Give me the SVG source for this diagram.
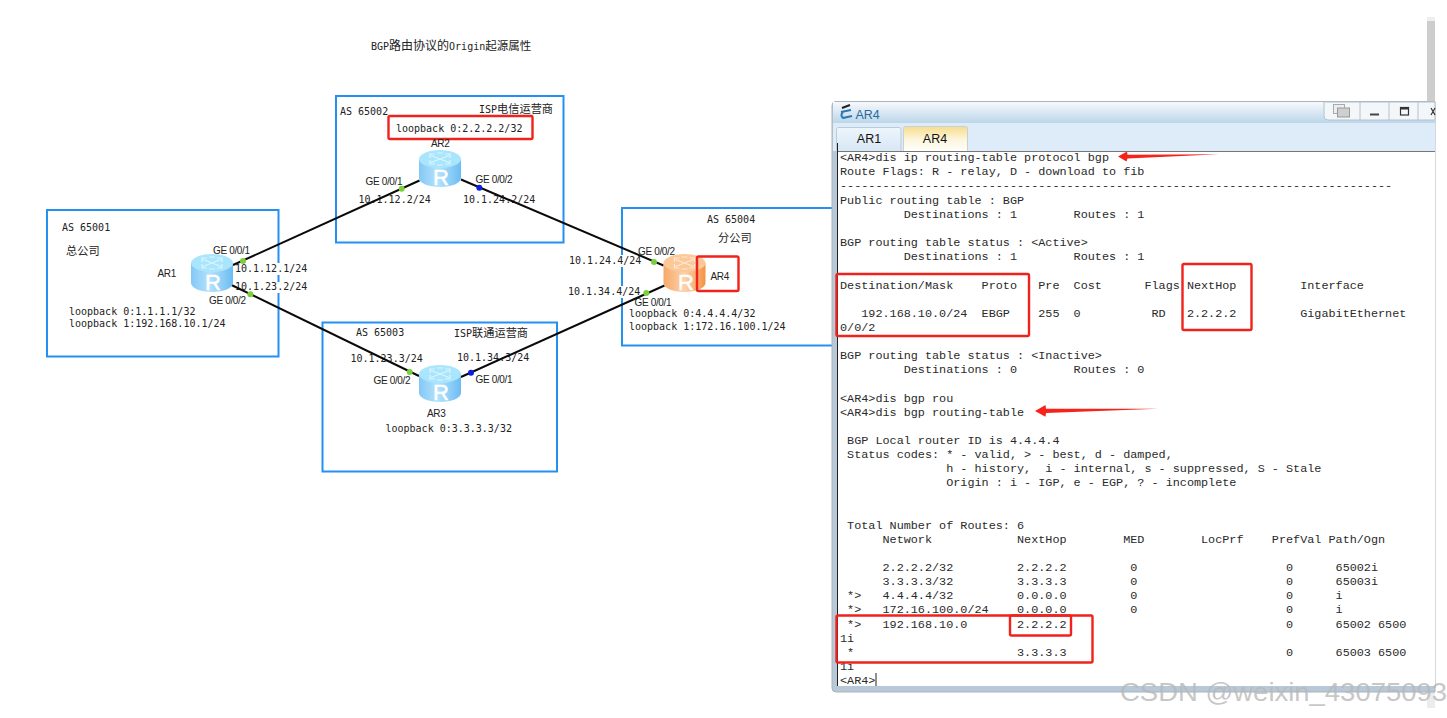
<svg xmlns="http://www.w3.org/2000/svg" width="1447" height="718" viewBox="0 0 1447 718">
<style>
text{white-space:pre}
.m{font-family:"DejaVu Sans Mono","Noto Sans CJK SC",monospace;font-size:10px;fill:#222}
.c{font-family:"Noto Sans CJK SC",sans-serif;font-size:11.2px;fill:#222}
.s{font-family:"Liberation Sans",Arial,sans-serif;font-size:10px;letter-spacing:-.35px;fill:#222}
.as{fill:none;stroke:#2291f2;stroke-width:2}
.red{fill:none;stroke:#f0221c;stroke-width:2.4}
.bg{fill:#fff}
.link{stroke:#0a0a0a;stroke-width:2;fill:none}
.g{fill:#7ccf3c}.b{fill:#0a1ee0}
.t{font-family:"Liberation Mono","Courier New",monospace;font-size:11.8px;fill:#2a2a2a}
.ar{fill:#f5231c}
.r{font-family:"Liberation Sans",sans-serif;font-size:22px;fill:#fff;stroke:#fff;stroke-width:.5;text-anchor:middle}
.tab{font-family:"Liberation Sans",sans-serif;font-size:12.5px;fill:#111;text-anchor:middle}
</style>
<defs>
<linearGradient id="rb" x1="0" x2="1" y1="0" y2="0"><stop offset="0" stop-color="#84c8f6"/><stop offset=".45" stop-color="#b4e2fd"/><stop offset="1" stop-color="#6cbcf2"/></linearGradient>
<linearGradient id="ro" x1="0" x2="1" y1="0" y2="0"><stop offset="0" stop-color="#f7a868"/><stop offset=".5" stop-color="#fdd2aa"/><stop offset="1" stop-color="#f29445"/></linearGradient>
<linearGradient id="title" x1="0" x2="0" y1="0" y2="1"><stop offset="0" stop-color="#f6f9fc"/><stop offset="1" stop-color="#bcd6ea"/></linearGradient>
<linearGradient id="tabOn" x1="0" x2="0" y1="0" y2="1"><stop offset="0" stop-color="#f7dc8c"/><stop offset=".5" stop-color="#fdf6dc"/><stop offset="1" stop-color="#ffffff"/></linearGradient>
<linearGradient id="tabOff" x1="0" x2="0" y1="0" y2="1"><stop offset="0" stop-color="#eef5fc"/><stop offset="1" stop-color="#d6e6f4"/></linearGradient>
<g id="cross" fill="none" stroke="#fff" stroke-width="1.200" opacity=".6"><path d="M-9-3.500L9 3.500M-9 3.500L9-3.500M-3-6L3-6M-3 6L3 6"/><path d="M-10-1V-5h5M10 1V5h-5M-10 1V5h5M10-1V-5h-5"/></g>
</defs>
<rect width="1447" height="718" fill="#fff"/>
<text class="m" x="371" y="50">BGP<tspan class="c" style="font-size:12px">路由协议的</tspan>Origin<tspan class="c" style="font-size:11.500px">起源属性</tspan></text>

<g id="as-65001">
<rect class="as" x="47" y="210" width="231.500" height="146.500"/>
<rect class="bg" x="235" y="263" width="72" height="12"/><rect class="bg" x="235" y="282" width="72" height="11"/>
<text class="m" x="62" y="231">AS 65001</text>
<text class="c" x="66" y="255">总公司</text>
<text class="m" x="69" y="315">loopback 0:1.1.1.1/32</text>
<text class="m" x="69" y="327">loopback 1:192.168.10.1/24</text>
<text class="s" x="213" y="254">GE 0/0/1</text>
<text class="s" x="209" y="304">GE 0/0/2</text>
<text class="m" x="235" y="272">10.1.12.1/24</text>
<text class="m" x="235" y="290">10.1.23.2/24</text>
</g>
<g id="as-65002">
<rect class="as" x="336" y="96" width="227.500" height="146.500"/>
<text class="m" x="340" y="115">AS 65002</text>
<text class="m" x="479" y="113">ISP<tspan class="c">电信运营商</tspan></text>
<rect class="red" x="388.500" y="116" width="144" height="23" rx="1.500"/>
<text class="m" x="396" y="132">loopback 0:2.2.2.2/32</text>
<text class="s" x="365.500" y="185">GE 0/0/1</text>
<text class="s" x="475.500" y="183">GE 0/0/2</text>
<text class="m" x="358.500" y="202.500">10.1.12.2/24</text>
<text class="m" x="463" y="202.500">10.1.24.2/24</text>
</g>
<g id="as-65003">
<rect class="as" x="322.500" y="322.500" width="234.500" height="149"/>
<text class="m" x="356" y="336">AS 65003</text>
<text class="m" x="454" y="337">ISP<tspan class="c">联通运营商</tspan></text>
<text class="m" x="350.500" y="361.500">10.1.23.3/24</text>
<text class="m" x="457" y="360.500">10.1.34.3/24</text>
<text class="s" x="373.500" y="384">GE 0/0/2</text>
<text class="s" x="475.500" y="382.500">GE 0/0/1</text>
<text class="m" x="385.500" y="432">loopback 0:3.3.3.3/32</text>
</g>
<g id="as-65004">
<rect class="as" x="622" y="208" width="230" height="137.500"/>
<rect class="bg" x="569" y="255" width="72" height="12"/><rect class="bg" x="568" y="286" width="72" height="12"/>
<text class="m" x="707" y="222.500">AS 65004</text>
<text class="c" x="718" y="242">分公司</text>
<text class="s" x="638" y="255">GE 0/0/2</text>
<text class="m" x="569" y="263.500">10.1.24.4/24</text>
<text class="m" x="568" y="295">10.1.34.4/24</text>
<text class="s" x="634.500" y="306">GE 0/0/1</text>
<text class="m" x="629" y="317">loopback 0:4.4.4.4/32</text>
<text class="m" x="629" y="329.500">loopback 1:172.16.100.1/24</text>
</g>

<g id="connectors">
<line class="link" x1="233" y1="265" x2="419.500" y2="180.500"/>
<line class="link" x1="231.500" y1="285" x2="419" y2="376"/>
<line class="link" x1="461" y1="179.500" x2="663.500" y2="265.500"/>
<line class="link" x1="461" y1="377" x2="664.500" y2="285.500"/>
<circle class="g" cx="243" cy="261" r="3"/><circle class="g" cx="250.300" cy="294.300" r="3"/>
<circle class="g" cx="401.700" cy="188.700" r="3"/><circle class="b" cx="479.300" cy="187.700" r="3"/>
<circle class="g" cx="654" cy="262" r="3"/><circle class="g" cx="646.300" cy="293" r="3"/>
<circle class="g" cx="409.700" cy="372" r="3"/><circle class="b" cx="471" cy="372.700" r="3"/>
</g>

<g id="AR1">
<path d="M191 263v20c0 5 9.500 9 21 9s21-4 21-9v-20z" fill="url(#rb)"/><ellipse cx="212" cy="263" rx="21" ry="9" fill="#a9e6fe"/><use href="#cross" x="212" y="263"/>
<text class="r" x="213" y="290">R</text>
<text class="s" x="157.500" y="277">AR1</text>
</g>
<g id="AR2">
<path d="M419 159v19c0 5 9.500 9 21 9s21-4 21-9v-19z" fill="url(#rb)"/><ellipse cx="440" cy="159" rx="21" ry="9" fill="#a9e6fe"/><use href="#cross" x="440" y="159"/>
<text class="r" x="441" y="185">R</text>
<text class="s" x="431" y="147">AR2</text>
</g>
<g id="AR3">
<path d="M419 374v19c0 5 9.500 9 21 9s21-4 21-9v-19z" fill="url(#rb)"/><ellipse cx="440" cy="374" rx="21" ry="9" fill="#a9e6fe"/><use href="#cross" x="440" y="374"/>
<text class="r" x="441" y="400">R</text>
<text class="s" x="427" y="416.500">AR3</text>
</g>
<g id="AR4">
<path d="M663.500 263v20c0 5 9.500 9 21 9s21-4 21-9v-20z" fill="url(#ro)"/><ellipse cx="684.500" cy="263" rx="21" ry="9" fill="#fcc898"/><use href="#cross" x="684.500" y="263"/>
<text class="r" x="686" y="290">R</text>
<rect class="red" x="697" y="256.500" width="41.500" height="34.500" rx="1.500"/>
<text class="s" x="710.500" y="279.500">AR4</text>
</g>

<g id="terminal-window">
<rect x="1427" y="17" width="8" height="85" fill="#cdcdcd"/><rect x="1427" y="17" width="8" height="4" fill="#eeeeee"/>
<rect x="1427" y="692" width="8" height="16" fill="#ececec"/>
<path d="M1435 101.500H836a4 4 0 0 0-4 4V688a4 4 0 0 0 4 4H1435z" fill="#b7c9d8" stroke="#a9b3bb"/>
<rect x="833" y="102" width="602" height="21" fill="url(#title)"/>
<rect x="833" y="123" width="602" height="28" fill="#deebf8"/>
<path d="M1324 102v14a4 4 0 0 0 4 4H1435V102z" fill="#f4f7fa" stroke="#b4c2cc"/>
<path d="M1360 102v18M1389 102v18M1418 102v18" stroke="#b4c2cc" fill="none"/>
<rect x="1333.500" y="104.500" width="11" height="9" fill="#eee" stroke="#aaa"/><rect x="1337.500" y="108" width="12" height="9" fill="#cfcfcf" stroke="#999"/>
<path d="M1370 114.500h9" stroke="#444" stroke-width="2"/>
<rect x="1400.500" y="107.500" width="8" height="7.500" fill="none" stroke="#333" stroke-width="1.200"/><path d="M1400 108.500h9" stroke="#333" stroke-width="2"/>
<path d="M1431 108l4 7M1435 108l-4 7" stroke="#333" stroke-width="1.200"/>
<path d="M842 108l8-3" stroke="#222" stroke-width="2"/><path d="M841 112l10-2M843 118l9-2M843 112c-3 3-1 6 1 6" stroke="#2a78b8" stroke-width="2" fill="none"/>
<text x="855.500" y="118.500" font-family="Liberation Sans,sans-serif" font-size="12.500" fill="#2a6a9a">AR4</text>
<rect x="836.500" y="127.500" width="64.500" height="25" rx="2" fill="url(#tabOff)" stroke="#bccbd8"/>
<rect x="903.500" y="126.500" width="64" height="26" rx="2" fill="url(#tabOn)" stroke="#c6d0d6"/>
<text class="tab" x="869" y="142.700">AR1</text>
<text class="tab" x="935" y="142.700">AR4</text>
<rect x="838" y="152" width="597" height="534" fill="#fff"/>
<path d="M1435 151.500H838" stroke="#777" fill="none"/>
<path d="M837.500 686V143" stroke="#222" fill="none"/>
<g id="terminal-text">
<text class="t" x="840" y="161">&lt;AR4&gt;dis ip routing-table protocol bgp</text>
<text class="t" x="840" y="175">Route Flags: R - relay, D - download to fib</text>
<text class="t" x="840" y="189">------------------------------------------------------------------------------</text>
<text class="t" x="840" y="204">Public routing table : BGP</text>
<text class="t" x="840" y="218">         Destinations : 1        Routes : 1</text>
<text class="t" x="840" y="246">BGP routing table status : &lt;Active&gt;</text>
<text class="t" x="840" y="260">         Destinations : 1        Routes : 1</text>
<text class="t" x="840" y="288.500">Destination/Mask    Proto   Pre  Cost      Flags NextHop         Interface</text>
<text class="t" x="840" y="317">   192.168.10.0/24  EBGP    255  0          RD   2.2.2.2         GigabitEthernet</text>
<text class="t" x="840" y="331">0/0/2</text>
<text class="t" x="840" y="359">BGP routing table status : &lt;Inactive&gt;</text>
<text class="t" x="840" y="373">         Destinations : 0        Routes : 0</text>
<text class="t" x="840" y="401.500">&lt;AR4&gt;dis bgp rou</text>
<text class="t" x="840" y="415.500">&lt;AR4&gt;dis bgp routing-table</text>
<text class="t" x="840" y="443.500"> BGP Local router ID is 4.4.4.4</text>
<text class="t" x="840" y="458"> Status codes: * - valid, &gt; - best, d - damped,</text>
<text class="t" x="840" y="472">               h - history,  i - internal, s - suppressed, S - Stale</text>
<text class="t" x="840" y="486">               Origin : i - IGP, e - EGP, ? - incomplete</text>
<text class="t" x="840" y="528.500"> Total Number of Routes: 6</text>
<text class="t" x="840" y="543">      Network            NextHop        MED        LocPrf    PrefVal Path/Ogn</text>
<text class="t" x="840" y="571">      2.2.2.2/32         2.2.2.2         0                     0      65002i</text>
<text class="t" x="840" y="585">      3.3.3.3/32         3.3.3.3         0                     0      65003i</text>
<text class="t" x="840" y="599"> *&gt;   4.4.4.4/32         0.0.0.0         0                     0      i</text>
<text class="t" x="840" y="613"> *&gt;   172.16.100.0/24    0.0.0.0         0                     0      i</text>
<text class="t" x="840" y="628"> *&gt;   192.168.10.0       2.2.2.2                               0      65002 6500</text>
<text class="t" x="840" y="642">1i</text>
<text class="t" x="840" y="656"> *                       3.3.3.3                               0      65003 6500</text>
<text class="t" x="840" y="670">1i</text>
<text class="t" x="840" y="684">&lt;AR4&gt;</text>
</g>
<path d="M876 673v13" stroke="#222"/>
<rect class="red" x="836.500" y="274" width="192.500" height="62" rx="1.500"/>
<rect class="red" x="1182.500" y="264" width="69" height="66" rx="1.500"/>
<rect class="red" x="836.500" y="615.500" width="256" height="47" rx="1.500"/>
<rect class="red" x="1010" y="615.500" width="61" height="20" rx="1.500"/>
<polygon class="ar" points="1118,156.500 1127,151.500 1127.500,154.800 1219,154.300 1127.500,158.500 1126.500,161.500"/>
<polygon class="ar" points="1035,411 1045.500,405 1046,408.800 1158,408.700 1046,413 1045.500,416.800"/>
</g>
<text x="1120" y="701" font-family="Liberation Sans,sans-serif" font-size="26" fill="#b8b8b8" fill-opacity=".8" textLength="327" lengthAdjust="spacingAndGlyphs">CSDN @weixin_43075093</text>
</svg>
